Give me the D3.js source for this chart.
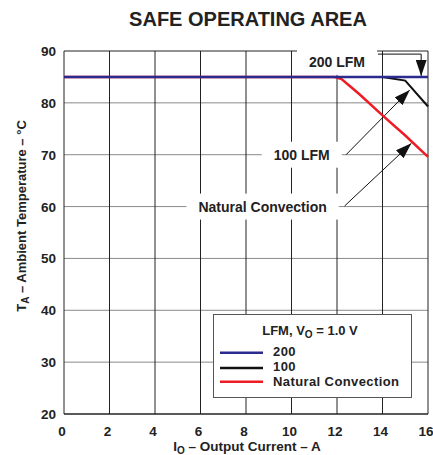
<!DOCTYPE html>
<html>
<head>
<meta charset="utf-8">
<script src="https://cdn.jsdelivr.net/npm/d3@7"></script>
<style>
  body { margin: 0; background: #fff; }
  text { font-family: "Liberation Sans", Arial, sans-serif; font-weight: bold; fill: #222; }
</style>
</head>
<body>
<svg id="chart" width="433" height="455"></svg>
<script>
// Data
const X_TICKS = [0, 2, 4, 6, 8, 10, 12, 14, 16]
const Y_TICKS = [20, 30, 40, 50, 60, 70, 80, 90]
const LFM200 = [[0, 85], [16, 85]]
const LFM100 = [[0, 85], [14, 85], [15, 84.3], [16, 79.3]]
const NATURAL = [[0, 85], [11.9, 85], [12.2, 84.6], [12.6, 83.1], [13, 81.6], [14, 77.6], [15, 73.7], [16, 69.6]]
const SERIES = ['200', '100', 'Natural Convection']
const COLORS = ['#2b2b8f', '#111111', '#ee1c25']

// Layout
const svg = d3.select('#chart')
const margin = { left: 64, right: 5, top: 51, bottom: 41 }
const width = 433, height = 455

const x = d3.scaleLinear().domain([0, 16]).range([margin.left, width - margin.right])
const y = d3.scaleLinear().domain([20, 90]).range([height - margin.bottom, margin.top])

// Arrow marker
svg.append('defs').append('marker')
  .attr('id', 'arrow')
  .attr('viewBox', '0 0 16 11')
  .attr('refX', 16)
  .attr('refY', 5.5)
  .attr('markerWidth', 16)
  .attr('markerHeight', 11)
  .attr('markerUnits', 'userSpaceOnUse')
  .attr('orient', 'auto')
  .append('path')
  .attr('d', 'M0,0 L16,5.5 L0,11 Z')
  .attr('fill', '#111')

// Title
svg.append('text')
  .attr('x', 248)
  .attr('y', 26)
  .attr('text-anchor', 'middle')
  .style('font-size', '20px')
  .text('SAFE OPERATING AREA')

// Horizontal grid (gray)
svg.append('g')
  .selectAll('line')
  .data(Y_TICKS)
  .enter()
  .append('line')
  .attr('x1', x(0))
  .attr('x2', x(16))
  .attr('y1', d => y(d))
  .attr('y2', d => y(d))
  .style('stroke', d => (d == 20 || d == 90) ? '#222' : '#8a8a8a')
  .style('stroke-width', d => d == 20 ? 1.5 : 1)

// Vertical grid (black)
svg.append('g')
  .selectAll('line')
  .data(X_TICKS)
  .enter()
  .append('line')
  .attr('x1', d => x(d))
  .attr('x2', d => x(d))
  .attr('y1', y(90))
  .attr('y2', y(20))
  .style('stroke', '#222')
  .style('stroke-width', 1)

// Tick labels
svg.append('g')
  .selectAll('text')
  .data(Y_TICKS)
  .enter()
  .append('text')
  .attr('x', x(0) - 8)
  .attr('y', d => y(d) + 5)
  .attr('text-anchor', 'end')
  .style('font-size', '13.5px')
  .text(d => d)

svg.append('g')
  .selectAll('text')
  .data(X_TICKS)
  .enter()
  .append('text')
  .attr('x', d => x(d) - 2)
  .attr('y', y(20) + 22)
  .attr('text-anchor', 'middle')
  .style('font-size', '13.5px')
  .text(d => d)

// Axis titles
const xt = svg.append('text')
  .attr('x', 247)
  .attr('y', 451)
  .attr('text-anchor', 'middle')
  .style('font-size', '13.5px')
xt.append('tspan').text('I')
xt.append('tspan').attr('dy', 3).style('font-size', '10px').text('O')
xt.append('tspan').attr('dy', -3).text(' – Output Current – A')

const yt = svg.append('text')
  .attr('transform', `translate(26, 216) rotate(-90)`)
  .attr('text-anchor', 'middle')
  .style('font-size', '13px')
yt.append('tspan').text('T')
yt.append('tspan').attr('dy', 3).style('font-size', '10px').text('A')
yt.append('tspan').attr('dy', -3).text(' – Ambient Temperature – °C')

// Annotation labels with white background
function label(text, ix, t) {
  const g = svg.append('g')
  const tx = g.append('text')
    .attr('x', x(ix))
    .attr('y', y(t) + 5)
    .attr('text-anchor', 'middle')
    .style('font-size', '14px')
    .text(text)
  const b = tx.node().getBBox()
  g.insert('rect', 'text')
    .attr('x', b.x - 12)
    .attr('y', y(t) - 13)
    .attr('width', b.width + 24)
    .attr('height', 26)
    .attr('fill', '#fff')
}
label('200 LFM', 12, 87.9)
label('100 LFM', 10.45, 70)
label('Natural Convection', 8.73, 60)

// Arrows
svg.append('path')
  .attr('d', `M${x(13.8)},${y(89.4)} H${x(15.7)} V${y(85.2)}`)
  .attr('fill', 'none')
  .style('stroke', '#111')
  .style('stroke-width', 1)
  .attr('marker-end', 'url(#arrow)')

svg.append('line')
  .attr('x1', x(12.4)).attr('y1', y(70))
  .attr('x2', x(15.2)).attr('y2', y(82.5))
  .style('stroke', '#111')
  .style('stroke-width', 1)
  .attr('marker-end', 'url(#arrow)')

svg.append('line')
  .attr('x1', x(12.33)).attr('y1', y(60.1))
  .attr('x2', x(15.27)).attr('y2', y(72.2))
  .style('stroke', '#111')
  .style('stroke-width', 1)
  .attr('marker-end', 'url(#arrow)')

// Curves
const line = d3.line().x(d => x(d[0])).y(d => y(d[1]))
svg.append('path').datum(NATURAL).attr('d', line)
  .attr('fill', 'none').style('stroke', COLORS[2]).style('stroke-width', 2.5)
svg.append('path').datum(LFM100).attr('d', line)
  .attr('fill', 'none').style('stroke', COLORS[1]).style('stroke-width', 2)
svg.append('path').datum(LFM200).attr('d', line)
  .attr('fill', 'none').style('stroke', COLORS[0]).style('stroke-width', 2.5)

// Legend
const legend = svg.append('g')
legend.append('rect')
  .attr('x', 213.5)
  .attr('y', 314.5)
  .attr('width', 198)
  .attr('height', 83)
  .attr('fill', '#fff')
  .style('stroke', '#555')
  .style('stroke-width', 1)

const lt = legend.append('text')
  .attr('x', 310)
  .attr('y', 335)
  .attr('text-anchor', 'middle')
  .style('font-size', '13px')
lt.append('tspan').text('LFM, V')
lt.append('tspan').attr('dy', 3).style('font-size', '10px').text('O')
lt.append('tspan').attr('dy', -3).text(' = 1.0 V')

const lineY = [352.7, 368, 381.7]
const textY = [356, 371, 386]
legend.selectAll('line')
  .data(SERIES)
  .enter()
  .append('line')
  .attr('x1', 220)
  .attr('x2', 263)
  .attr('y1', (_, i) => lineY[i])
  .attr('y2', (_, i) => lineY[i])
  .style('stroke', (_, i) => COLORS[i])
  .style('stroke-width', 2.5)

legend.selectAll('.lbl')
  .data(SERIES)
  .enter()
  .append('text')
  .attr('class', 'lbl')
  .attr('x', 273)
  .attr('y', (_, i) => textY[i])
  .style('font-size', '13px')
  .style('letter-spacing', '0.4px')
  .text(d => d)
</script>
</body>
</html>
